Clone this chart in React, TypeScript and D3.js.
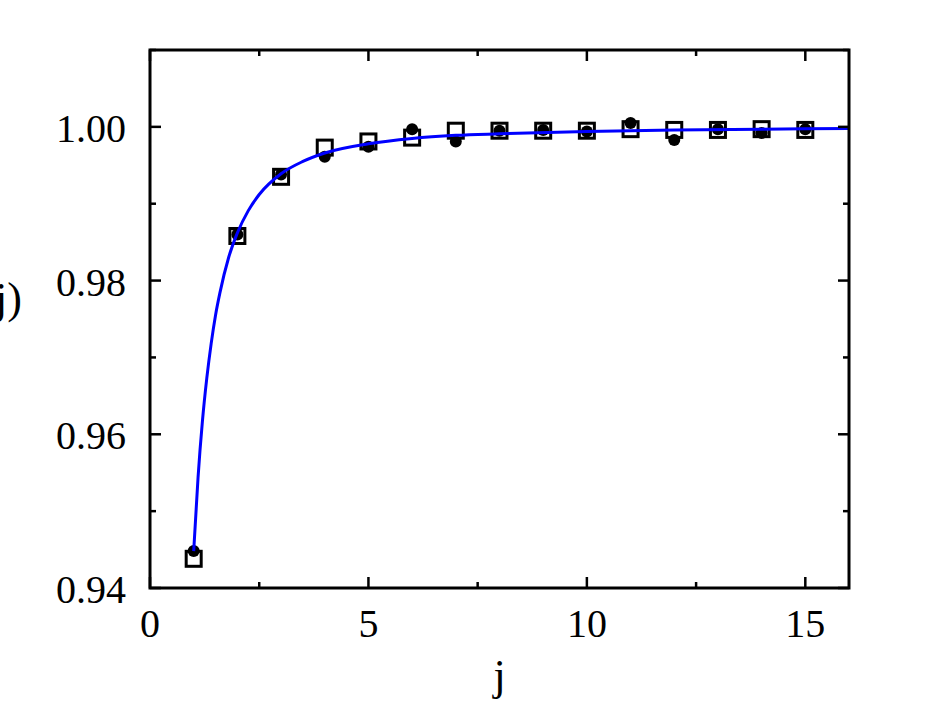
import * as d3 from "d3";
import { useRef, useEffect } from "react";

// x positions of the measured points
const jValues = [1, 2, 3, 4, 5, 6, 7, 8, 9, 10, 11, 12, 13, 14, 15];

// filled circles
const circleValues = [0.9448, 0.9860, 0.9938, 0.9961, 0.9974, 0.9997, 0.9981, 0.9995, 0.9996, 0.9994, 1.0005, 0.9983, 0.9997, 0.9992, 0.9997];

// open squares
const squareValues = [0.9438, 0.9858, 0.9935, 0.9973, 0.9981, 0.9986, 0.9995, 0.9995, 0.9995, 0.9995, 0.9997, 0.9996, 0.9996, 0.9997, 0.9996];

// blue curve
const curveJ = [1, 1.1, 1.2, 1.3, 1.4, 1.5, 1.6, 1.8, 2, 2.25, 2.5, 3, 3.5, 4, 5, 6, 7, 8, 10, 12, 14, 16];
const curveValues = [0.9448, 0.9544, 0.9617, 0.9673, 0.9718, 0.9755, 0.9784, 0.983, 0.9862, 0.9891, 0.9912, 0.9939, 0.9955, 0.9966, 0.9978, 0.9985, 0.9989, 0.9991, 0.9994, 0.9996, 0.9997, 0.9998];

// tick labels
const xTicks = [0, 5, 10, 15];
const xMinor = [2.5, 7.5, 12.5];
const yTicks = [0.94, 0.96, 0.98, 1.0];
const yMinor = [0.95, 0.97, 0.99, 1.01];

export default function App() {
    const svgRef = useRef<SVGSVGElement>(null);

    useEffect(() => {
        const svg = d3.select(svgRef.current);
        svg.selectAll("*").remove();

        const left = 150, right = 849, top = 50, bottom = 588;
        const font = "'Liberation Serif', 'Times New Roman', serif";

        const x = d3.scaleLinear().domain([0, 16]).range([left, right]);
        const y = d3.scaleLinear().domain([0.94, 1.01]).range([bottom, top]);

        const g = svg.append("g");

        // filled circles
        g.selectAll("circle.pt").data(circleValues).enter().append("circle").attr("class", "pt")
            .attr("cx", (d, i) => x(jValues[i])).attr("cy", d => y(d)).attr("r", 6).attr("fill", "black");

        // open squares
        const s = 15;
        g.selectAll("rect.pt").data(squareValues).enter().append("rect").attr("class", "pt")
            .attr("x", (d, i) => x(jValues[i]) - s / 2).attr("y", d => y(d) - s / 2)
            .attr("width", s).attr("height", s).attr("fill", "none").attr("stroke", "black").attr("stroke-width", 3);

        // blue curve
        const line = d3.line<number>().x((d, i) => x(curveJ[i])).y(d => y(d)).curve(d3.curveMonotoneX);
        g.append("path").datum(curveValues).attr("d", line).attr("fill", "none").attr("stroke", "#0000ff").attr("stroke-width", 3);

        // ticks on all four sides, pointing inward
        const tickG = g.append("g").attr("stroke", "black").attr("stroke-width", 2.5);
        xTicks.concat(xMinor).forEach(t => {
            const len = xTicks.includes(t) ? 11 : 6;
            tickG.append("line").attr("x1", x(t)).attr("x2", x(t)).attr("y1", bottom).attr("y2", bottom - len);
            tickG.append("line").attr("x1", x(t)).attr("x2", x(t)).attr("y1", top).attr("y2", top + len);
        });
        yTicks.concat(yMinor).forEach(t => {
            const len = yTicks.includes(t) ? 11 : 6;
            tickG.append("line").attr("x1", left).attr("x2", left + len).attr("y1", y(t)).attr("y2", y(t));
            tickG.append("line").attr("x1", right).attr("x2", right - len).attr("y1", y(t)).attr("y2", y(t));
        });

        // frame
        g.append("rect").attr("x", left).attr("y", top).attr("width", right - left).attr("height", bottom - top)
            .attr("fill", "none").attr("stroke", "black").attr("stroke-width", 3);

        // tick labels
        g.selectAll("text.xt").data(xTicks).enter().append("text").attr("class", "xt")
            .attr("x", d => x(d)).attr("y", 637).attr("text-anchor", "middle")
            .style("font-family", font).style("font-size", "40px").text(d => d);
        g.selectAll("text.yt").data(yTicks).enter().append("text").attr("class", "yt")
            .attr("x", 126).attr("y", d => y(d) + 15).attr("text-anchor", "end")
            .style("font-family", font).style("font-size", "40px").text(d => d3.format(".2f")(d));

        // axis labels
        g.append("text").attr("x", x(8)).attr("y", 690).attr("text-anchor", "middle")
            .style("font-family", font).style("font-size", "44px").text("j");
        g.append("text").attr("x", 22).attr("y", 313).attr("text-anchor", "end")
            .style("font-family", font).style("font-size", "44px").text("F(j)");
    }, []);

    return (
        <svg ref={svgRef} width={926} height={703} style={{ position: "absolute", left: 0, top: 0, background: "white" }} />
    );
}
